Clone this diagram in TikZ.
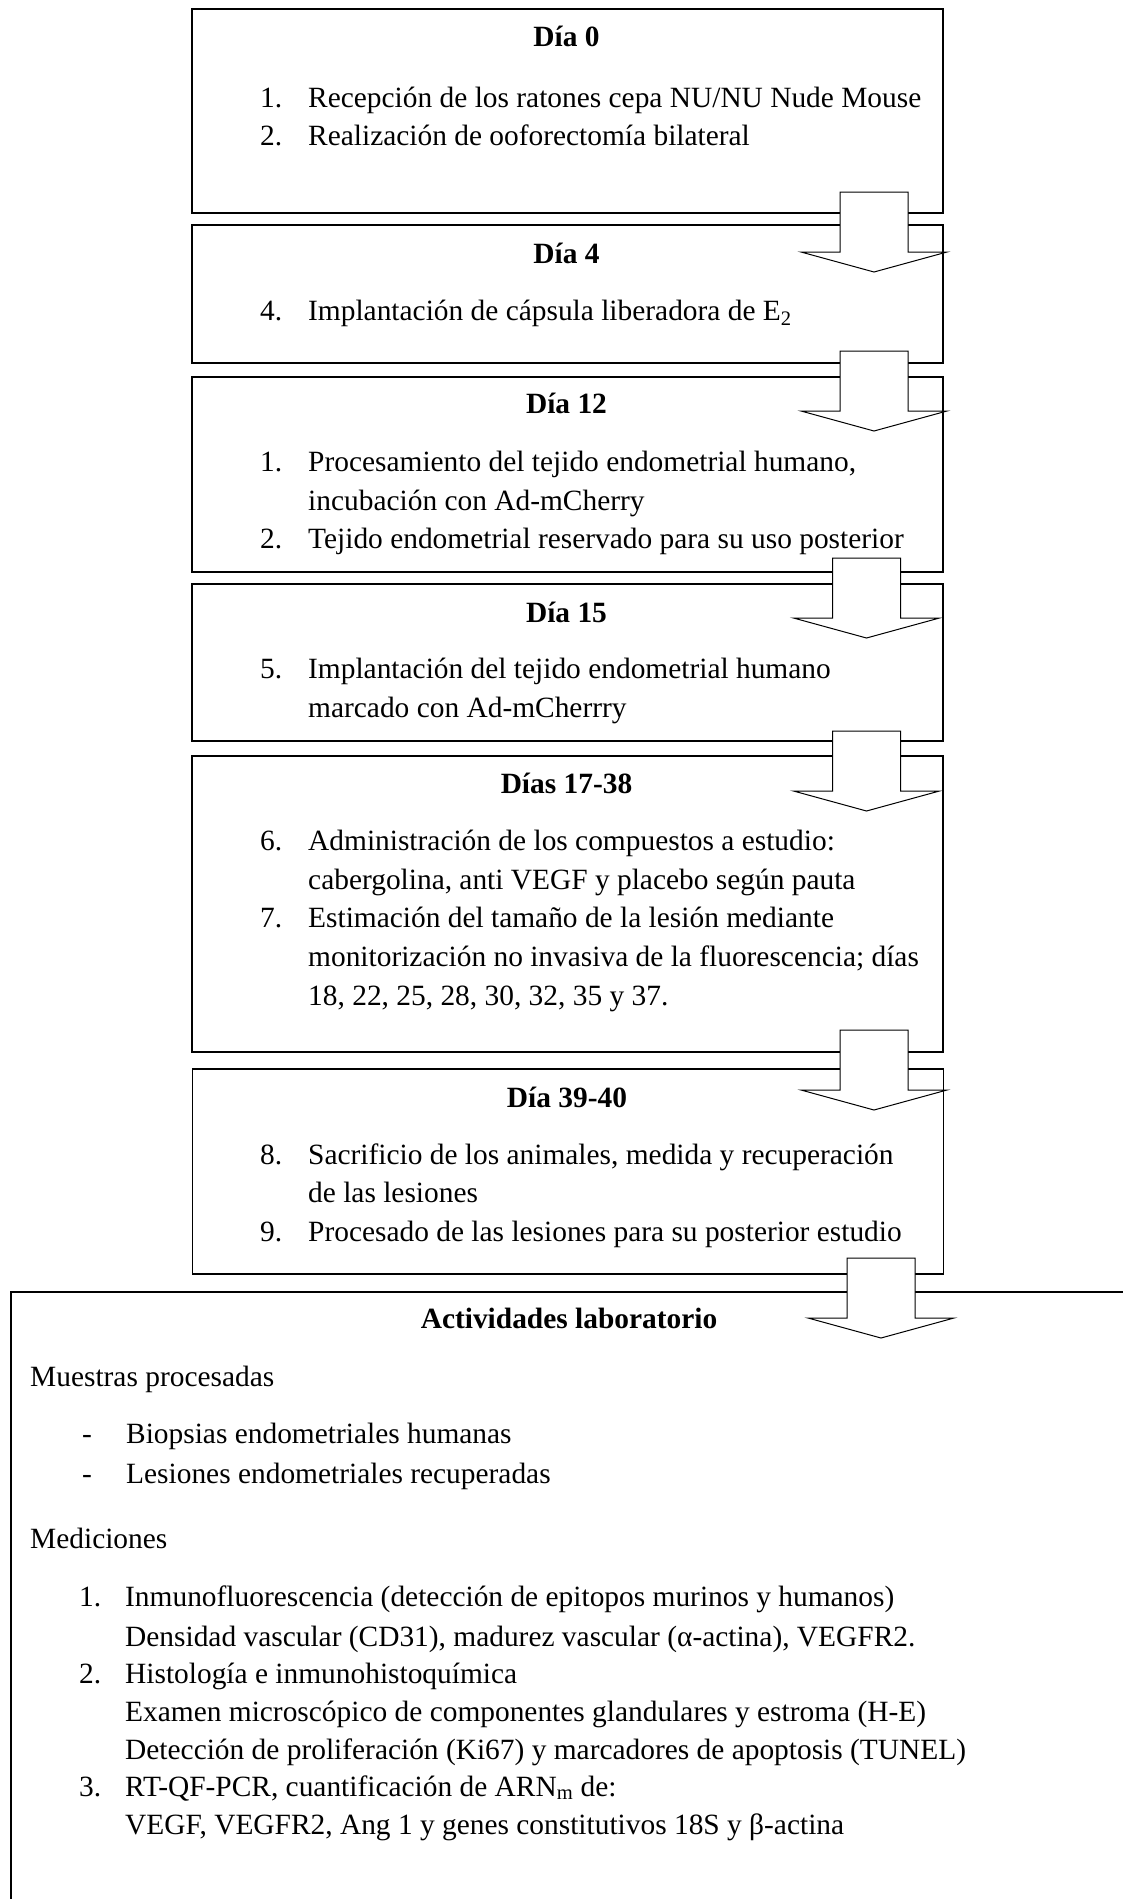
\documentclass[tikz,border=0pt]{standalone}
\usepackage{fontspec}
\setmainfont{Liberation Serif}
\begin{document}
\begin{tikzpicture}[x=1pt,y=-1pt,
  box/.style={draw, line width=1.6pt, rectangle, anchor=north west, inner sep=0pt, minimum width=751pt},
  blk/.style={draw, line width=1pt, fill=white, line join=miter},
  txt/.style={anchor=base west, inner sep=0pt, font=\fontsize{29.4}{38}\selectfont},
  ttl/.style={anchor=base, inner sep=0pt, font=\fontsize{29.4}{38}\selectfont\bfseries}]
\useasboundingbox (0,0) rectangle (1123,1899);
\fill[white] (0,0) rectangle (1123,1899);

% boxes
\node[box, minimum height=204pt] (d0) at (191,8) {};
\node[box, minimum height=138pt] (d4) at (191,224) {};
\node[box, minimum height=195pt] (d12) at (191,376) {};
\node[box, minimum height=157pt] (d15) at (191,583) {};
\node[box, minimum height=296pt] (d17) at (191,755) {};
\node[box, minimum height=205pt] (d39) at (191.5,1068) {};
\node[box, minimum width=1150pt, minimum height=700pt] (lab) at (10,1291) {};

% Día 0
\node[ttl] (t0) at (566.5,46.5) {Día 0};
\node[txt] (n01) at (260,107) {1.};
\node[txt] (i01) at (308,107) {Recepción de los ratones cepa NU/NU Nude Mouse};
\node[txt] (n02) at (260,145) {2.};
\node[txt] (i02) at (308,145) {Realización de ooforectomía bilateral};

% Día 4
\node[ttl] (t4) at (566.5,263) {Día 4};
\node[txt] (n41) at (260,320.5) {4.};
\node[txt] (i41) at (308,320.5) {Implantación de cápsula liberadora de E\textsubscript{2}};

% Día 12
\node[ttl] (t12) at (566.5,413.5) {Día 12};
\node[txt] (n121) at (260,471.5) {1.};
\node[txt] (i121) at (308,471.5) {Procesamiento del tejido endometrial humano,};
\node[txt] (i122) at (308,510) {incubación con Ad-mCherry};
\node[txt] (n123) at (260,548.5) {2.};
\node[txt] (i123) at (308,548.5) {Tejido endometrial reservado para su uso posterior};

% Día 15
\node[ttl] (t15) at (566.5,622) {Día 15};
\node[txt] (n151) at (260,678.5) {5.};
\node[txt] (i151) at (308,678.5) {Implantación del tejido endometrial humano};
\node[txt] (i152) at (308,717) {marcado con Ad-mCherrry};

% Días 17-38
\node[ttl] (t17) at (566.5,793) {Días 17-38};
\node[txt] (n171) at (260,850.5) {6.};
\node[txt] (i171) at (308,850.5) {Administración de los compuestos a estudio:};
\node[txt] (i172) at (308,889) {cabergolina, anti VEGF y placebo según pauta};
\node[txt] (n173) at (260,927.5) {7.};
\node[txt] (i173) at (308,927.5) {Estimación del tamaño de la lesión mediante};
\node[txt] (i174) at (308,966) {monitorización no invasiva de la fluorescencia; días};
\node[txt] (i175) at (308,1005) {18, 22, 25, 28, 30, 32, 35 y 37.};

% Día 39-40
\node[ttl] (t39) at (567,1107) {Día 39-40};
\node[txt] (n391) at (260,1164) {8.};
\node[txt] (i391) at (308,1164) {Sacrificio de los animales, medida y recuperación};
\node[txt] (i392) at (308,1202.5) {de las lesiones};
\node[txt] (n393) at (260,1241) {9.};
\node[txt] (i393) at (308,1241) {Procesado de las lesiones para su posterior estudio};

% Actividades laboratorio
\node[ttl] (tl) at (569,1328) {Actividades laboratorio};
\node[txt] (m1) at (30,1386) {Muestras procesadas};
\node[txt] (b1) at (82,1443) {-};
\node[txt] (l1) at (126,1443) {Biopsias endometriales humanas};
\node[txt] (b2) at (82,1483) {-};
\node[txt] (l2) at (126,1483) {Lesiones endometriales recuperadas};
\node[txt] (m2) at (30,1548) {Mediciones};
\node[txt] (k1) at (79,1606) {1.};
\node[txt] (r1) at (125,1606) {Inmunofluorescencia (detección de epitopos murinos y humanos)};
\node[txt] (r2) at (125,1646) {Densidad vascular (CD31), madurez vascular (α-actina), VEGFR2.};
\node[txt] (k2) at (79,1683) {2.};
\node[txt] (r3) at (125,1683) {Histología e inmunohistoquímica};
\node[txt] (r4) at (125,1721) {Examen microscópico de componentes glandulares y estroma (H-E)};
\node[txt] (r5) at (125,1759) {Detección de proliferación (Ki67) y marcadores de apoptosis (TUNEL)};
\node[txt] (k3) at (79,1796) {3.};
\node[txt] (r6) at (125,1796) {RT-QF-PCR, cuantificación de ARN\textsubscript{m} de:};
\node[txt] (r7) at (125,1834) {VEGF, VEGFR2, Ang 1 y genes constitutivos 18S y β-actina};

% block arrows
\coordinate (a1) at (874,192);
\coordinate (a2) at (874,351);
\coordinate (a3) at (866.5,558);
\coordinate (a4) at (866.5,731);
\coordinate (a5) at (874,1030);
\coordinate (a6) at (881,1258);
\foreach \a in {a1,a2,a3,a4,a5,a6}
  \draw[blk] (\a) ++(-34,0) -- ++(68,0) -- ++(0,60) -- ++(39,0) -- ++(-73,20) -- ++(-73,-20) -- ++(39,0) -- cycle;
\end{tikzpicture}
\end{document}
